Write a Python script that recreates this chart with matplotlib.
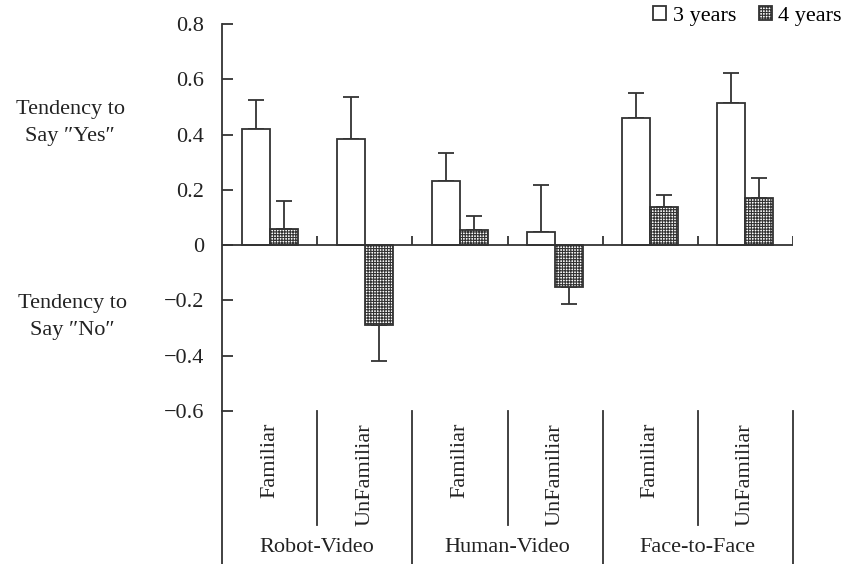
import numpy as np
import matplotlib
matplotlib.use("Agg")
import matplotlib.pyplot as plt
import matplotlib.transforms as mtransforms

plt.rcParams['font.family'] = ['Liberation Serif', 'DejaVu Serif']
plt.rcParams['hatch.linewidth'] = 0.8

# ---- data ----
groups = ["Robot-Video", "Human-Video", "Face-to-Face"]
conditions = ["Familiar", "UnFamiliar", "Familiar", "UnFamiliar", "Familiar", "UnFamiliar"]
series_names = ["3 years", "4 years"]
years3 = [0.42, 0.383, 0.233, 0.048, 0.459, 0.513]
years3_err = [0.105, 0.154, 0.100, 0.168, 0.090, 0.110]
years4 = [0.060, -0.290, 0.053, -0.153, 0.138, 0.170]
years4_err = [0.100, 0.130, 0.052, 0.059, 0.042, 0.073]
yticks = [0.8, 0.6, 0.4, 0.2, 0.0, -0.2, -0.4, -0.6]
ytick_labels = ["0.8", "0.6", "0.4", "0.2", "0", "\u22120.2", "\u22120.4", "\u22120.6"]

W, H = 843, 564
fig = plt.figure(figsize=(W / 100, H / 100), dpi=100)
ax = fig.add_axes([222 / W, 1 - 411 / H, (793 - 222) / W, (411 - 24) / H])

LC = '#333333'
TC = '#222222'
FS = 16
n = len(conditions)
x = np.arange(n) + 0.5
w = 0.295

ax.bar(x - w / 2, years3, w, facecolor='white', edgecolor=LC, linewidth=1.3,
       label=series_names[0], zorder=2)
ax.bar(x + w / 2, years4, w, facecolor='white', edgecolor=LC, linewidth=1.3,
       hatch='++++++', label=series_names[1], zorder=2)

def one_sided(vals, errs):
    v = np.array(vals); e = np.array(errs)
    lower = np.where(v < 0, e, 0)
    upper = np.where(v >= 0, e, 0)
    return [lower, upper]

ax.errorbar(x - w / 2, years3, yerr=one_sided(years3, years3_err), fmt='none',
            ecolor=LC, elinewidth=1.3, capsize=5.5, capthick=1.3, zorder=1)
ax.errorbar(x + w / 2, years4, yerr=one_sided(years4, years4_err), fmt='none',
            ecolor=LC, elinewidth=1.3, capsize=5.5, capthick=1.3, zorder=1)

ax.set_xlim(0, n)
ax.set_ylim(-0.6, 0.8)
ax.axhline(0, color=LC, linewidth=1.3, zorder=3)
ax.vlines(np.arange(1, n + 1), 0, 0.033, color=LC, linewidth=1.3, zorder=3)

for s in ['top', 'right', 'bottom']:
    ax.spines[s].set_visible(False)
ax.spines['left'].set_color(LC)
ax.spines['left'].set_linewidth(1.3)
ax.set_xticks([])
ax.set_yticks(yticks)
ax.set_yticklabels(ytick_labels, fontsize=FS, color=TC)
ax.tick_params(axis='y', direction='in', length=8, width=1.3, color=LC, pad=13)

# lines below the axes
trans = mtransforms.blended_transform_factory(ax.transData, ax.transAxes)
inner_depth = -(525 - 411) / 387
outer_depth = -(564 - 411) / 387 - 0.01
ax.plot([0, 0], [0, outer_depth], color=LC, lw=1.3, transform=trans, clip_on=False)
for i in range(1, n + 1):
    d = outer_depth if i % 2 == 0 else inner_depth
    ax.plot([i, i], [0, d], color=LC, lw=1.3, transform=trans, clip_on=False)

for xi, c in zip(x, conditions):
    ax.text(xi, -(423 - 411) / 387, c, rotation=90, ha='center', va='top',
            fontsize=FS, transform=trans, color=TC)
for gi, g in enumerate(groups):
    ax.text(2 * gi + 1, -(548 - 411) / 387, g, ha='center', va='center',
            fontsize=FS, transform=trans, color=TC)

fig.text(70 / W, 1 - 123 / H, "Tendency to\nSay \u2033Yes\u2033", ha='center', va='center',
         fontsize=FS, linespacing=1.6, color=TC)
fig.text(72 / W, 1 - 317 / H, "Tendency to\nSay \u2033No\u2033", ha='center', va='center',
         fontsize=FS, linespacing=1.55, color=TC)

ax.legend(loc='upper right', bbox_to_anchor=(842 / W, 1 - 6 / H), bbox_transform=fig.transFigure,
          frameon=False, ncol=2, handlelength=0.6, handleheight=0.6, handletextpad=0.3,
          columnspacing=1.0, borderaxespad=0, borderpad=0, fontsize=FS)

fig.savefig('out.png', dpi=100)
